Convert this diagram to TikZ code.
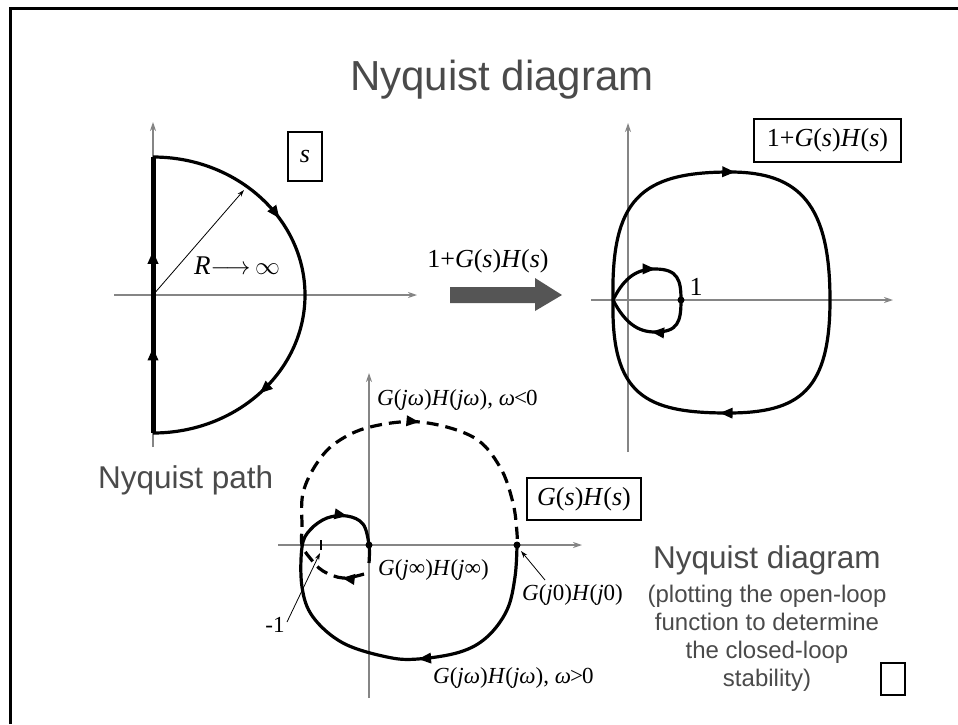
\documentclass[tikz,border=0pt]{standalone}
\usepackage{fontspec}
\setmainfont{Liberation Serif}
\setsansfont{Liberation Sans}
\usetikzlibrary{arrows.meta,decorations.markings}
\definecolor{txtgray}{HTML}{4A4A4A}
\definecolor{axgray}{HTML}{858585}
\definecolor{bigarrow}{HTML}{555555}
\tikzset{
  axis/.style={axgray, line width=1.2pt, -{Stealth[length=9pt,width=6pt]}},
  curve/.style={line width=3.2pt, line join=round},
  midarr/.style={postaction={decorate,decoration={markings,
      mark=at position #1 with {\arrow{Triangle[length=13pt,width=10pt]}}}}},
  thinarr/.style={line width=0.8pt, -{Stealth[length=7pt,width=4.5pt]}},
  dotpt/.style={circle, fill=black, inner sep=0pt, minimum size=7pt},
  titletext/.style={font=\sffamily\fontsize{42}{50}\selectfont, text=txtgray, inner sep=0pt},
  sanslab/.style={font=\sffamily\fontsize{31.5}{36}\selectfont, text=txtgray, inner sep=0pt},
  sanssmall/.style={font=\sffamily\fontsize{24}{28}\selectfont, text=txtgray, inner sep=0pt},
  lab/.style={font=\fontsize{26}{30}\selectfont, inner sep=0pt},
  labs/.style={font=\fontsize{23}{27}\selectfont, inner sep=0pt},
  boxlab/.style={draw, line width=1.3pt, inner sep=0pt, font=\fontsize{26}{30}\selectfont},
}
\begin{document}
\begin{tikzpicture}[x=1pt,y=-1pt]
\useasboundingbox (0,0) rectangle (958,724);
% frame
\draw[line width=3pt] (10.5,724) -- (10.5,8.5) -- (958,8.5);
\node[titletext, anchor=base] (title) at (502,90) {Nyquist diagram};

% ---------- s-plane (Nyquist path) ----------
\draw[axis] (114,295) -- (417,295);
\draw[axis] (153,447) -- (153,122);
\draw[curve, midarr=0.32, midarr=0.745] (153,157) arc[start angle=-90, end angle=90, x radius=152, y radius=138];
\draw[line width=5pt, midarr=0.31, midarr=0.66] (153,433) -- (153,157);
\coordinate (orig) at (153,295);
\coordinate (rtip) at (244,190);
\draw[thinarr] (orig) -- (rtip);
\node[lab, font=\fontsize{27}{30}\selectfont] (rlab) at (237,266) {\textit{R}$\longrightarrow$\,$\infty$};
\node[boxlab, minimum width=34pt, minimum height=49pt] (sbox) at (305,156.5) {\textit{s}};
\node[sanslab, anchor=base west] (npath) at (98,488) {Nyquist path};

% ---------- mapping arrow ----------
\fill[bigarrow] (450,287) -- (535,287) -- (535,278) -- (562,295) -- (535,311) -- (535,303) -- (450,303) -- cycle;
\node[lab, anchor=base] (maplab) at (488,267) {1+\textit{G}(\textit{s})\textit{H}(\textit{s})};

% ---------- 1+G(s)H(s) plane ----------
\draw[axis] (591,300) -- (893,300);
\draw[axis] (628,452) -- (628,123);
\draw[curve, midarr=0.276, midarr=0.76]
  (613,300) .. controls (611,200) and (640,172) .. (730,172)
  .. controls (800,172) and (830,205) .. (830,300)
  .. controls (830,390) and (800,413) .. (728,413)
  .. controls (645,413) and (611,395) .. (613,300);
\draw[curve, midarr=0.27, midarr=0.75]
  (613,300) .. controls (625,276) and (638,269) .. (655,269)
  .. controls (678,269) and (681,280) .. (681,300)
  .. controls (681,322) and (678,332) .. (655,332)
  .. controls (638,332) and (625,323) .. (613,300);
\node[dotpt] (one) at (681,300) {};
\node[lab, anchor=base] (onelab) at (696,295) {1};
\node[boxlab, minimum width=147pt, minimum height=43pt] (fbox) at (827.5,140.5) {1+\textit{G}(\textit{s})\textit{H}(\textit{s})};

% ---------- G(s)H(s) plane ----------
\draw[axis] (278,545) -- (582,545);
\draw[axis] (369,698) -- (369,373);
% omega > 0 (solid)
\draw[curve, midarr=0.36, midarr=0.88] plot[smooth, tension=0.6] coordinates {
  (517,545) (515,577) (507,610) (487,637) (460,652) (418,659) (387,657)
  (343,643) (313,617) (302,587) (302,547) (310,530) (327,518) (347,516)
  (363,524) (369,545) (369,563)};
% omega < 0 (dashed)
\draw[curve, dash pattern=on 12pt off 7pt, midarr=0.05, midarr=0.61] plot[smooth, tension=0.6] coordinates {
  (364,574) (343,578) (323,571) (310,558) (302,545) (302,527) (303,493)
  (317,463) (337,442) (370,427) (420,422) (473,437) (500,467) (513,503)
  (517,533) (517,545)};
\node[dotpt] (ginf) at (369,545) {};
\node[dotpt] (gzero) at (517,545) {};
\coordinate (tickt) at (321,540);
\coordinate (tickb) at (321,550);
\draw[line width=1.2pt] (tickt) -- (tickb);
\node[labs] (mone) at (275,625) {-1};
\coordinate (monefrom) at (287,622);
\coordinate (moneto) at (320,553);
\draw[thinarr] (monefrom) -- (moneto);
\node[labs, anchor=base west] (ginflab) at (378,575) {\textit{G}(\textit{j}∞)\textit{H}(\textit{j}∞)};
\node[labs, anchor=base west] (g0lab) at (522,600) {\textit{G}(\textit{j}0)\textit{H}(\textit{j}0)};
\coordinate (g0from) at (545,580);
\coordinate (g0to) at (521,551);
\draw[thinarr] (g0from) -- (g0to);
\node[labs, anchor=base west] (negw) at (377,405) {\textit{G}(\textit{jω})\textit{H}(\textit{jω}), \textit{ω}\kern-1pt<\kern-1pt0};
\node[labs, anchor=base west] (posw) at (433,683) {\textit{G}(\textit{jω})\textit{H}(\textit{jω}), \textit{ω}\kern-1pt>\kern-1pt0};
\node[boxlab, minimum width=114pt, minimum height=42pt] (gbox) at (584,499) {\textit{G}(\textit{s})\textit{H}(\textit{s})};

% ---------- caption ----------
\node[sanslab, anchor=base] (nd2) at (767,568) {Nyquist diagram};
\node[sanssmall, anchor=base] (c1) at (767,602) {(plotting the open-loop};
\node[sanssmall, anchor=base] (c2) at (767,630) {function to determine};
\node[sanssmall, anchor=base] (c3) at (767,658) {the closed-loop};
\node[sanssmall, anchor=base] (c4) at (767,686) {stability)};
\node[draw, line width=1.3pt, minimum width=24pt, minimum height=32pt, inner sep=0pt] (sqbox) at (893,679) {};
\end{tikzpicture}
\end{document}
